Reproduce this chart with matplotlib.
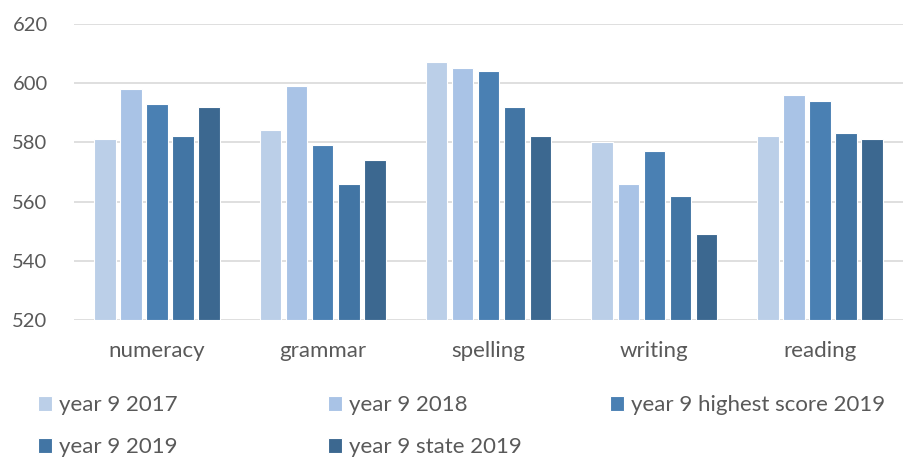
import numpy as np
import matplotlib.pyplot as plt

# data
categories = ['numeracy', 'grammar', 'spelling', 'writing', 'reading']
series_names = ['year 9 2017', 'year 9 2018', 'year 9 highest score 2019',
                'year 9 2019', 'year 9 state 2019']
y2017 = [581, 584, 607, 580, 582]
y2018 = [598, 599, 605, 566, 596]
y2019_high = [593, 579, 604, 577, 594]
y2019 = [582, 566, 592, 562, 583]
y2019_state = [592, 574, 582, 549, 581]
yticks = [520, 540, 560, 580, 600, 620]

colors = ['#BBCFE8', '#A9C3E6', '#4A80B3', '#4275A4', '#3C6890']
series = [y2017, y2018, y2019_high, y2019, y2019_state]

plt.rcParams['font.family'] = ['Lato', 'DejaVu Sans']
grey = '#595959'

fig = plt.figure(figsize=(9.06, 4.59), dpi=100)
ax = fig.add_axes([0.0817, 0.303, 0.915, 0.645])

x = np.arange(len(categories))
step = 0.157
width = 0.13
handles = []
for i, (vals, name, col) in enumerate(zip(series, series_names, colors)):
    b = ax.bar(x + (i - 2) * step, np.array(vals) - 520, width=width, bottom=520,
               color=col, edgecolor='white', linewidth=0.8, label=name, zorder=3)
    handles.append(b)

ax.set_xlim(-0.5, len(categories) - 0.5)
ax.set_ylim(520, 620)
ax.set_yticks(yticks)
ax.set_xticks(x)
ax.set_xticklabels(categories)
ax.grid(axis='y', color='#D9D9D9', linewidth=1.2, zorder=0)
for s in ax.spines.values():
    s.set_visible(False)
ax.tick_params(length=0, labelsize=16, colors=grey, pad=15)
ax.tick_params(axis='y', labelsize=14.5, pad=19)

# legend: row-major, one legend per column
col_x = [40, 330, 612]
columns = [[0, 3], [1, 4], [2]]
for cx, idx in zip(col_x, columns):
    leg = fig.legend([handles[k] for k in idx], [series_names[k] for k in idx],
                     loc='upper left', bbox_to_anchor=(cx / 906 - 0.012, 1 - 386 / 459),
                     frameon=False, fontsize=16, handlelength=0.65, handleheight=0.65,
                     handletextpad=0.3, labelspacing=1.0, borderaxespad=0)
    for t in leg.get_texts():
        t.set_color(grey)

plt.savefig('out.png')
